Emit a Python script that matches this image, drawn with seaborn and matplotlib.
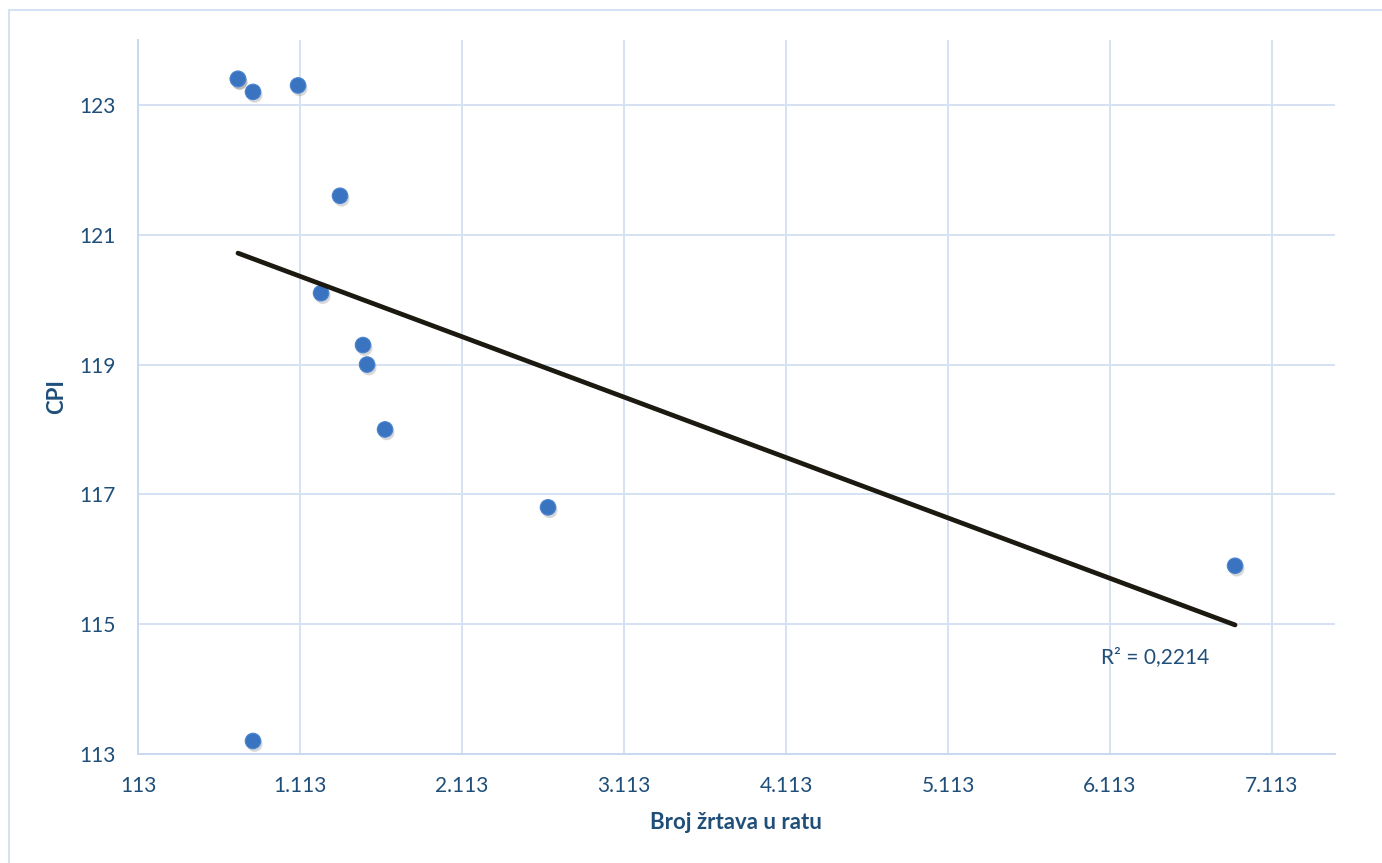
import numpy as np
import pandas as pd
import matplotlib
matplotlib.use("Agg")
import matplotlib.pyplot as plt
import matplotlib.patheffects as pe
from matplotlib.ticker import FuncFormatter
from matplotlib.lines import Line2D
import seaborn as sns

# Data
zrtve = [730, 730, 823, 1101, 1360, 1243, 1502, 1527, 1638, 2644, 6885, 823]
cpi = [123.4, 123.4, 123.2, 123.3, 121.6, 120.1, 119.3, 119.0, 118.0, 116.8, 115.9, 113.2]
x_ticks = [113, 1113, 2113, 3113, 4113, 5113, 6113, 7113]
y_ticks = [113, 115, 117, 119, 121, 123]
r2_label = "R² = 0,2214"
x_label = "Broj žrtava u ratu"
y_label = "CPI"

df = pd.DataFrame({"x": zrtve, "y": cpi})

sns.set_theme(style="white")
plt.rcParams["font.family"] = ["Lato", "DejaVu Sans"]

TXT = "#1F4E79"
GRID = "#D5E2F4"

fig = plt.figure(figsize=(13.82, 8.63), dpi=100)
ax = fig.add_axes([138 / 1382, 1 - 754 / 863, (1335 - 138) / 1382, (754 - 40) / 863])

ax.set_xlim(113, 113 + (1335 - 138) / 162 * 1000)
ax.set_ylim(113, 124)
ax.set_xticks(x_ticks)
ax.set_yticks(y_ticks)
ax.xaxis.set_major_formatter(FuncFormatter(lambda v, p: f"{int(round(v)):,}".replace(",", ".")))
ax.yaxis.set_major_formatter(FuncFormatter(lambda v, p: f"{int(round(v))}"))
ax.grid(True, color=GRID, linewidth=1.4)
ax.set_axisbelow(True)
for s in ["top", "right"]:
    ax.spines[s].set_visible(False)
for s in ["left", "bottom"]:
    ax.spines[s].set_color("#C8D8F0")
    ax.spines[s].set_linewidth(1.4)
ax.tick_params(axis="both", length=0, labelsize=15, labelcolor=TXT)
ax.tick_params(axis="x", pad=16)
ax.tick_params(axis="y", pad=16)

sns.scatterplot(data=df, x="x", y="y", ax=ax, s=125, color="#3A73C0",
                edgecolor="#4A83CF", linewidth=0.8, zorder=3,
                path_effects=[pe.SimplePatchShadow(offset=(1.2, -2.2), shadow_rgbFace="#666666", alpha=0.25),
                              pe.Normal()])
sns.regplot(data=df, x="x", y="y", ax=ax, scatter=False, ci=None, truncate=True,
            line_kws={"color": "#1C1A10", "linewidth": 3.4, "solid_capstyle": "round", "zorder": 4})

ax.set_xlabel("")
ax.set_ylabel("")
ax.text(6057, 114.49, r2_label, ha="left", va="center", fontsize=15, color=TXT)

fig.text(736 / 1382, 1 - 822 / 863, x_label, ha="center", va="center",
         fontsize=16, fontweight="bold", color=TXT)
fig.text(57 / 1382, 1 - 397 / 863, y_label, ha="center", va="center", rotation=90,
         fontsize=16, fontweight="bold", color=TXT)

# outer chart border
fig.add_artist(Line2D([8.5 / 1382, 8.5 / 1382], [0, 1 - 10.5 / 863], transform=fig.transFigure,
                      color=GRID, linewidth=1.4))
fig.add_artist(Line2D([8.5 / 1382, 1], [1 - 10.5 / 863, 1 - 10.5 / 863], transform=fig.transFigure,
                      color=GRID, linewidth=1.4))

fig.savefig("out.png", dpi=100, facecolor="white")
